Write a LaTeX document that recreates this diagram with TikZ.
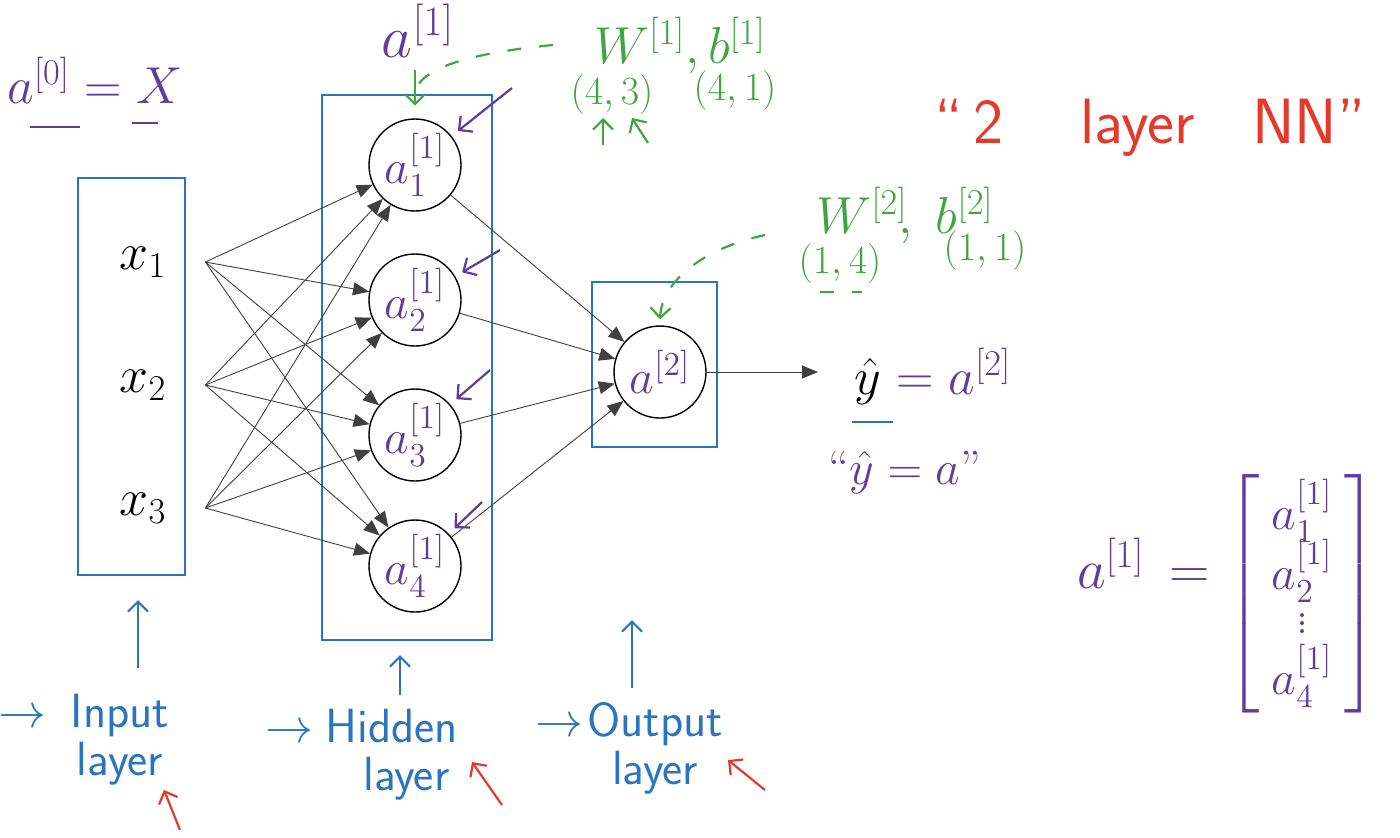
\RequirePackage{fix-cm}
\documentclass[tikz,border=0pt]{standalone}
\usepackage{amsmath}
\usetikzlibrary{arrows.meta,positioning}

\definecolor{penpurple}{RGB}{92,62,158}
\definecolor{pengreen}{RGB}{64,165,64}
\definecolor{penblue}{RGB}{42,116,192}
\definecolor{penred}{RGB}{228,58,46}

\newcommand{\fsz}[1]{\fontsize{#1}{#1}\selectfont}

\tikzset{
  layerbox/.style={draw=penblue,line width=1.3pt,inner sep=0pt},
  neuron/.style={circle,draw,line width=0.7pt,minimum size=46pt,inner sep=0pt,text=penpurple,font=\fsz{24}},
  xin/.style={minimum width=62pt,inner sep=0pt,font=\fsz{26}},
  conn/.style={-{Triangle[length=8pt,width=6.5pt]},line width=0.45pt,black!75},
  penarrow/.style={line width=1.1pt,-{Straight Barb[length=5pt,width=10pt]}},
  hand/.style={text=#1,inner sep=1pt},
  gdash/.style={pengreen,line width=1.1pt,dash pattern=on 7pt off 9pt},
  lbl/.style={text=penblue,align=center,inner sep=0pt,font=\sffamily\fsz{24}},
}

\begin{document}
\begin{tikzpicture}[x=0.5pt,y=-0.5pt]
  \useasboundingbox (0,0) rectangle (1400,837);

  % layer boxes
  \node[layerbox,minimum width=53.5pt,minimum height=198.5pt] (inbox) at (131.5,376.5) {};
  \node[layerbox,minimum width=85pt,minimum height=272.5pt] (hbox) at (407,367.5) {};
  \node[layerbox,minimum width=62.5pt,minimum height=82.5pt] (obox) at (654.5,364.5) {};

  % units
  \foreach \i/\y in {1/262,2/385,3/508}
    \node[xin] (x\i) at (143,\y) {$x_{\i}$};
  \foreach \j/\y in {1/165,2/300,3/435,4/566}
    \node[neuron] (h\j) at (415,\y) {$a^{[1]}_{\j}$};
  \node[neuron] (out) at (660,372) {$a^{[2]}$};

  % connections
  \foreach \i in {1,2,3}
    \foreach \j in {1,...,4}
      \draw[conn] (x\i.east) -- (h\j);
  \foreach \j in {1,...,4}
    \draw[conn] (h\j) -- (out);

  \node[anchor=base west,inner xsep=18pt,inner ysep=2pt,font=\fsz{26}] (yhat) at (818,394)
    {$\hat{y}$ \textcolor{penpurple}{$= a^{[2]}$}};
  \draw[conn] (out) -- (out -| yhat.west);
  \draw[penblue,line width=1.1pt] (852,422) -- (893,422);
  \node[hand=penpurple,font=\fsz{24}] (yq) at (905,472)
    {\textquotedblleft$\hat{y} = a$\textquotedblright};

  % notes, top
  \node[hand=penpurple,font=\fsz{26}] (a0) at (95,80) {$a^{[0]} = X$};
  \draw[penpurple,line width=1.1pt] (30,127) -- (80,127) (132,123) -- (158,123);
  \node[hand=penpurple,font=\fsz{30},anchor=base] (a1top) at (418,57) {$a^{[1]}$};
  \node[hand=pengreen,font=\fsz{26},anchor=base] (wb1) at (680,63) {$W^{[1]}, b^{[1]}$};
  \node[hand=pengreen,font=\fsz{20}] (d43) at (612,94) {$(4,3)$};
  \node[hand=pengreen,font=\fsz{20}] (d41) at (735,90) {$(4,1)$};
  \draw[pengreen,penarrow] (603,145) -- (603,118);
  \draw[pengreen,penarrow] (648,143) -- (632,118);
  \coordinate (g1) at (553,45);
  \draw[gdash] (g1) .. controls (480,52) and (418,66) .. ([xshift=4pt]hbox.north);
  \draw[pengreen,penarrow] ([xshift=4pt,yshift=12pt]hbox.north) -- ([xshift=4pt,yshift=-6pt]hbox.north);

  \node[hand=pengreen,font=\fsz{26},anchor=base] (wb2) at (905,233) {$W^{[2]}\!, \; b^{[2]}$};
  \node[hand=pengreen,font=\fsz{20}] (d14) at (840,263) {$(1,4)$};
  \node[hand=pengreen,font=\fsz{20}] (d11) at (985,250) {$(1,1)$};
  \draw[gdash] (820,292) -- (862,292);
  \coordinate (g2) at (765,235);
  \draw[gdash,-{Straight Barb[length=5pt,width=10pt]}] (g2) .. controls (705,248) and (662,280) .. ([yshift=3pt]out.north);

  % pointers to hidden units
  \foreach \j/\px/\py in {1/512/88,2/500/250,3/490/370,4/482/502}{
    \coordinate (p\j) at (\px,\py);
    \draw[penpurple,penarrow,shorten >=4pt] (p\j) -- (h\j);
  }

  \node[hand=penred,font=\sffamily\fsz{32}] (nn) at (1150,128)
    {\textquotedblleft\,2\hspace{1.2em}layer\hspace{0.9em}NN\textquotedblright};

  % a[1] as a vector
  \node[hand=penpurple,font=\fsz{28},anchor=base east] (alhs) at (1212,588) {$a^{[1]}\,=$};
  \node[hand=penpurple,font=\fsz{24}] (avec) at (1302,594)
    {$\left[\begin{array}{@{\hspace{6pt}}c@{\hspace{6pt}}} a^{[1]}_1 \\[-2pt] a^{[1]}_2 \\[-2pt] \vdots \\[-2pt] a^{[1]}_4 \end{array}\right]$};

  % layer names
  \node[lbl] (inlbl) at (120,740) {\llap{$\rightarrow$\hspace{12pt}}Input\\layer};
  \node[lbl] (hlbl) at (392,755) {\llap{$\rightarrow$\hspace{6pt}}Hidden\\\hspace{0.6em}layer};
  \node[lbl] (olbl) at (655,748) {\llap{$\rightarrow$\hspace{2pt}}Output\\layer};
  \coordinate (inhead) at (138,600);
  \coordinate (hhead) at (400,655);
  \coordinate (ohead) at (632,620);
  \draw[penblue,penarrow] (138,668) -- (inhead);
  \draw[penblue,penarrow] (400,695) -- (hhead);
  \draw[penblue,penarrow] (632,688) -- (ohead);
  \draw[penred,penarrow] (180,830) -- (164,790);
  \draw[penred,penarrow] (502,805) -- (472,762);
  \draw[penred,penarrow] (765,790) -- (728,760);
\end{tikzpicture}
\end{document}
